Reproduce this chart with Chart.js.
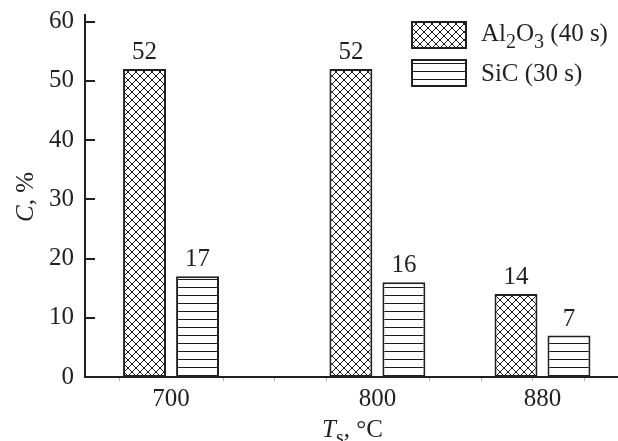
<!DOCTYPE html>
<html lang="en">
<head>
<meta charset="UTF-8">
<title>C vs Ts</title>
<script src="https://cdn.jsdelivr.net/npm/chart.js@4.4.0/dist/chart.umd.min.js"></script>
<style>
  html, body { margin: 0; padding: 0; background: #fff; }
</style>
</head>
<body>
<canvas id="myChart" width="618" height="441"></canvas>
<script>
// data
const temps = [700, 800, 880];
const al2o3 = [52, 52, 14];
const sic = [17, 16, 7];
const yTicks = [0, 10, 20, 30, 40, 50, 60];

const ink = '#231f20';
const serif = '"Liberation Serif", "Times New Roman", serif';

// hatch fills
function makePattern(kind) {
  const c = document.createElement('canvas');
  c.width = 8; c.height = 8;
  const g = c.getContext('2d');
  g.fillStyle = '#fff';
  g.fillRect(0, 0, 8, 8);
  g.strokeStyle = '#1a1a1a';
  g.lineWidth = 1;
  g.beginPath();
  if (kind === 'cross') {
    g.moveTo(0, 0); g.lineTo(8, 8);
    g.moveTo(8, 0); g.lineTo(0, 8);
  } else {
    g.moveTo(0, 7.5); g.lineTo(8, 7.5);
  }
  g.stroke();
  return g.createPattern(c, 'repeat');
}
const crossFill = makePattern('cross');
const lineFill = makePattern('lines');

// text with italic / subscript pieces
function drawRich(ctx, parts, x, y) {
  let cx = x;
  parts.forEach(p => {
    const size = p.sub ? 20 : 25;
    ctx.font = (p.italic ? 'italic ' : '') + size + 'px ' + serif;
    ctx.fillText(p.t, cx, y + (p.sub ? 7 : 0));
    cx += ctx.measureText(p.t).width;
  });
}

const decor = {
  id: 'decor',
  afterDatasetsDraw(chart) {
    const ctx = chart.ctx;
    const area = chart.chartArea;
    const xs = chart.scales.x, ys = chart.scales.y;
    ctx.save();

    // y ticks point inward
    ctx.strokeStyle = ink;
    ctx.lineWidth = 2;
    yTicks.forEach(v => {
      if (v === 0) return;
      const py = Math.round(ys.getPixelForValue(v));
      ctx.beginPath();
      ctx.moveTo(area.left, py);
      ctx.lineTo(area.left + 10, py);
      ctx.stroke();
    });

    // faint minor ticks under x axis
    ctx.strokeStyle = '#b5b5b5';
    ctx.lineWidth = 1;
    for (let v = Math.ceil(xs.min / 25) * 25; v <= xs.max; v += 25) {
      if (temps.includes(v)) continue;
      const px = Math.round(xs.getPixelForValue(v)) + 0.5;
      ctx.beginPath();
      ctx.moveTo(px, area.bottom + 1);
      ctx.lineTo(px, area.bottom + 4);
      ctx.stroke();
    }

    // value labels above bars
    ctx.fillStyle = ink;
    ctx.font = '25px ' + serif;
    ctx.textAlign = 'center';
    ctx.textBaseline = 'alphabetic';
    chart.data.datasets.forEach((ds, i) => {
      chart.getDatasetMeta(i).data.forEach((bar, j) => {
        ctx.fillText(String(ds.data[j].y), bar.x, bar.y - 10);
      });
    });

    // legend
    ctx.textAlign = 'left';
    ctx.lineWidth = 2;
    ctx.strokeStyle = ink;
    ctx.fillStyle = crossFill;
    ctx.fillRect(412, 22, 54, 26);
    ctx.strokeRect(412, 22, 54, 26);
    ctx.fillStyle = lineFill;
    ctx.fillRect(412, 60, 54, 26);
    ctx.strokeRect(412, 60, 54, 26);
    ctx.fillStyle = ink;
    drawRich(ctx, [{t: 'Al'}, {t: '2', sub: true}, {t: 'O'}, {t: '3', sub: true}, {t: ' (40 s)'}], 481, 41);
    drawRich(ctx, [{t: 'SiC (30 s)'}], 481, 81);

    // x title
    drawRich(ctx, [{t: 'T', italic: true}, {t: 's', sub: true}, {t: ', °C'}], 322, 437);

    // y title, rotated
    ctx.translate(33, 222);
    ctx.rotate(-Math.PI / 2);
    drawRich(ctx, [{t: 'C', italic: true}, {t: ', %'}], 0, 0);

    ctx.restore();
  }
};

const ctx = document.getElementById('myChart');
const myChart = new Chart(ctx, {
  type: 'bar',
  data: {
    datasets: [{
      label: 'Al2O3 (40 s)',
      data: temps.map((t, i) => ({x: t, y: al2o3[i]})),
      backgroundColor: crossFill,
      borderColor: ink,
      borderWidth: 2,
      borderSkipped: false
    }, {
      label: 'SiC (30 s)',
      data: temps.map((t, i) => ({x: t, y: sic[i]})),
      backgroundColor: lineFill,
      borderColor: ink,
      borderWidth: 2,
      borderSkipped: false
    }]
  },
  options: {
    responsive: false,
    animation: false,
    categoryPercentage: 0.642,
    barPercentage: 0.81,
    layout: {padding: {top: 15, left: 0, right: 0, bottom: 0}},
    plugins: {
      legend: {display: false},
      tooltip: {enabled: false}
    },
    scales: {
      x: {
        type: 'linear',
        min: 658.3,
        max: 916.6,
        offset: false,
        afterBuildTicks: s => { s.ticks = temps.map(v => ({value: v})); },
        afterFit: s => { s.height = 64; s.paddingLeft = 0; s.paddingRight = 0; },
        grid: {display: false, drawTicks: false, offset: false},
        border: {display: true, color: ink, width: 2},
        ticks: {
          color: ink,
          font: {family: serif, size: 25},
          padding: 7,
          maxRotation: 0,
          autoSkip: false
        }
      },
      y: {
        min: 0,
        max: 61.1,
        afterBuildTicks: s => { s.ticks = yTicks.map(v => ({value: v})); },
        afterFit: s => { s.width = 85; s.paddingTop = 0; s.paddingBottom = 0; },
        grid: {display: false, drawTicks: false},
        border: {display: true, color: ink, width: 2},
        ticks: {
          color: ink,
          font: {family: serif, size: 25},
          padding: 11
        }
      }
    }
  },
  plugins: [decor]
});
</script>
</body>
</html>
